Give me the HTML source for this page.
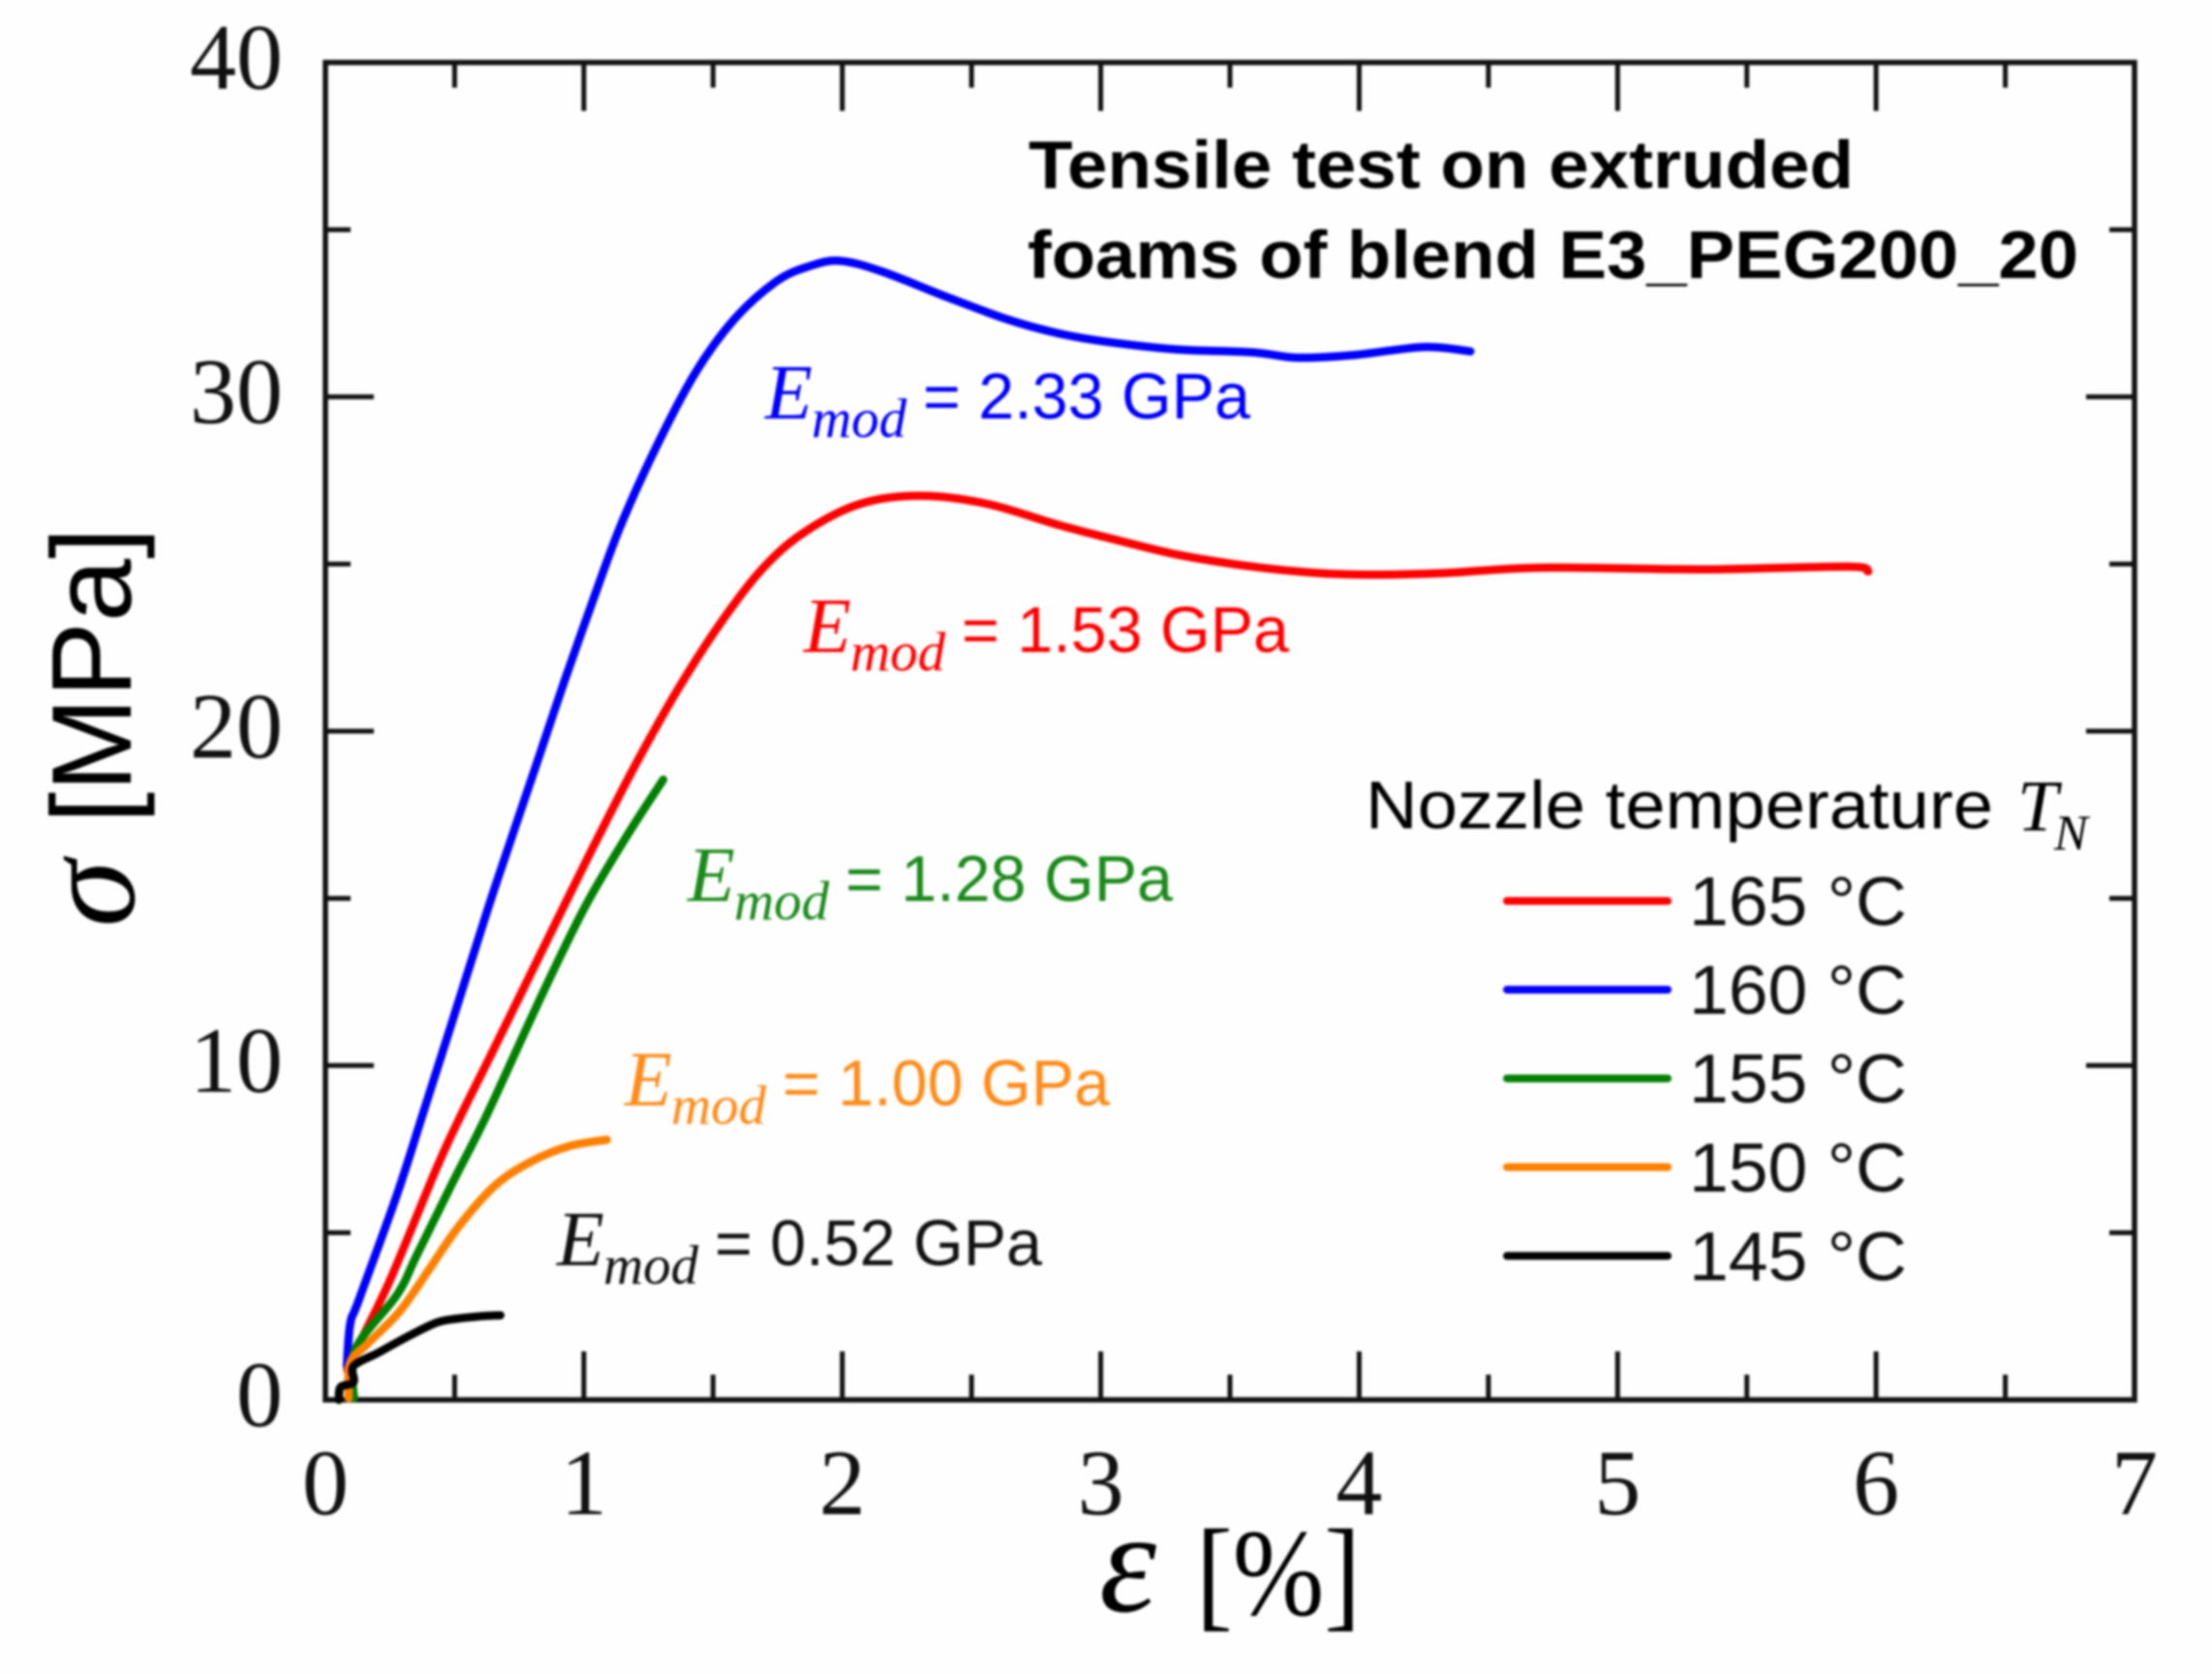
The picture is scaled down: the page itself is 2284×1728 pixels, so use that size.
<!DOCTYPE html>
<html lang="en">
<head>
<meta charset="utf-8">
<title>Tensile test on extruded foams</title>
<style>
html,body{margin:0;padding:0;background:#fefefe;}
svg{display:block;filter:blur(1.4px);}
.serif{font-family:"Liberation Serif",serif;}
.sans{font-family:"Liberation Sans",sans-serif;}
.ital{font-family:"Liberation Serif",serif;font-style:italic;}
</style>
</head>
<body>
<svg id="chart" xmlns="http://www.w3.org/2000/svg" width="2284" height="1728" viewBox="0 0 2284 1728">
  <rect x="0" y="0" width="2284" height="1728" fill="#fefefe"/>
  <g id="axes"></g>
  <g id="series"></g>

  <text class="ital" font-size="140" fill="#000" transform="translate(138,957) rotate(-90)">σ</text>
  <text class="sans" font-size="117" fill="#000" transform="translate(135,850) rotate(-90)">[MPa]</text>
  <text class="ital" font-size="150" fill="#000" x="1135" y="1663">ε</text>
  <text class="serif" font-size="128" fill="#000" x="1235" y="1667" textLength="170" lengthAdjust="spacingAndGlyphs">[%]</text>

  <text class="sans" font-weight="700" font-size="70" fill="#000" x="1062" y="194" textLength="852" lengthAdjust="spacingAndGlyphs">Tensile test on extruded</text>
  <text class="sans" font-weight="700" font-size="70" fill="#000" x="1061" y="287" textLength="1085" lengthAdjust="spacingAndGlyphs">foams of blend E3_PEG200_20</text>

  <g fill="#0000ff">
    <text class="ital" font-size="80" x="790" y="432">E</text>
    <text class="ital" font-size="57" x="838" y="451">mod</text>
    <text class="sans" font-size="67" x="953" y="432" textLength="338" lengthAdjust="spacingAndGlyphs">= 2.33 GPa</text>
  </g>
  <g fill="#ff0000">
    <text class="ital" font-size="80" x="830" y="673">E</text>
    <text class="ital" font-size="57" x="878" y="692">mod</text>
    <text class="sans" font-size="67" x="993" y="673" textLength="338" lengthAdjust="spacingAndGlyphs">= 1.53 GPa</text>
  </g>
  <g fill="#1a8a1a">
    <text class="ital" font-size="80" x="710" y="930">E</text>
    <text class="ital" font-size="57" x="758" y="949">mod</text>
    <text class="sans" font-size="67" x="873" y="930" textLength="338" lengthAdjust="spacingAndGlyphs">= 1.28 GPa</text>
  </g>
  <g fill="#ff8c1a">
    <text class="ital" font-size="80" x="645" y="1141">E</text>
    <text class="ital" font-size="57" x="693" y="1160">mod</text>
    <text class="sans" font-size="67" x="808" y="1141" textLength="338" lengthAdjust="spacingAndGlyphs">= 1.00 GPa</text>
  </g>
  <g fill="#111">
    <text class="ital" font-size="80" x="575" y="1306">E</text>
    <text class="ital" font-size="57" x="623" y="1325">mod</text>
    <text class="sans" font-size="67" x="738" y="1306" textLength="338" lengthAdjust="spacingAndGlyphs">= 0.52 GPa</text>
  </g>

  <g>
    <text class="sans" font-size="70" fill="#000" x="1410" y="855" textLength="648" lengthAdjust="spacingAndGlyphs">Nozzle temperature</text>
    <text class="ital" font-size="75" fill="#000" x="2083" y="857">T</text>
    <text class="ital" font-size="52" fill="#000" x="2121" y="877">N</text>
    <g id="legend-entries"></g>
  </g>
</svg>
<script>
// Axis definitions
const xTickLabels = ["0", "1", "2", "3", "4", "5", "6", "7"];
const yTickLabels = ["0", "10", "20", "30", "40"];
const xMinorValues = [0.5, 1.5, 2.5, 3.5, 4.5, 5.5, 6.5];
const yMinorValues = [5, 15, 25, 35];

// Series data: strain [%] and stress [MPa]
const strain165 = [0.085, 0.12, 0.251, 0.434, 0.527, 0.652, 0.925, 1.06, 1.2, 1.36, 1.526, 1.69, 1.853, 2.07, 2.3, 2.56, 2.836, 3.02, 3.29, 3.57, 3.84, 4.06, 4.33, 4.71, 5.34, 5.89, 5.97];
const stress165 = [0.88, 1.5, 3.6, 7.0, 8.55, 10.5, 14.8, 16.9, 19.0, 21.2, 23.2, 24.85, 25.95, 26.8, 27.04, 26.8, 26.17, 25.8, 25.29, 24.94, 24.73, 24.68, 24.73, 24.89, 24.84, 24.92, 24.78];
const strain160 = [0.083, 0.096, 0.13, 0.277, 0.377, 0.49, 0.625, 0.72, 0.816, 0.925, 1.03, 1.14, 1.28, 1.43, 1.58, 1.744, 1.87, 1.99, 2.153, 2.4, 2.645, 2.836, 3.02, 3.29, 3.59, 3.76, 3.98, 4.25, 4.43];
const stress160 = [1.01, 2.27, 3.0, 6.14, 8.55, 11.3, 14.6, 16.8, 19.0, 21.5, 23.8, 26.1, 28.5, 30.7, 32.3, 33.45, 33.9, 34.07, 33.75, 33.0, 32.3, 31.9, 31.65, 31.42, 31.33, 31.17, 31.25, 31.49, 31.36];
const strain155 = [0.11, 0.115, 0.277, 0.352, 0.489, 0.626, 0.843, 1.007, 1.165, 1.307];
const stress155 = [0.05, 1.5, 3.14, 4.3, 6.45, 8.55, 12.2, 14.78, 16.85, 18.55];
const strain150 = [0.09, 0.096, 0.165, 0.289, 0.402, 0.514, 0.652, 0.789, 0.939, 1.089];
const stress150 = [0.05, 1.11, 1.69, 2.66, 3.91, 5.17, 6.38, 7.1, 7.58, 7.78];
const strain145 = [0.052, 0.059, 0.109, 0.109, 0.202, 0.315, 0.427, 0.5, 0.6, 0.677];
const stress145 = [0, 0.38, 0.53, 1.01, 1.4, 1.88, 2.3, 2.42, 2.5, 2.53];

const legendLabels = ["165 °C", "160 °C", "155 °C", "150 °C", "145 °C"];
const legendColors = ["#ff0000", "#0000ff", "#008000", "#ff8000", "#000000"];

const plotLeft = 336, plotRight = 2204, plotTop = 64.5, plotBottom = 1445;
const xMax = 7, yMax = 40;
const xScale = v => plotLeft + (v / xMax) * (plotRight - plotLeft);
const yScale = v => plotBottom - (v / yMax) * (plotBottom - plotTop);

const NS = "http://www.w3.org/2000/svg";
const axes = document.getElementById("axes");
const seriesGroup = document.getElementById("series");
const legendGroup = document.getElementById("legend-entries");
const axisColor = "#111";

function tickLine(x1, y1, x2, y2, width) {
  const l = document.createElementNS(NS, "line");
  l.setAttribute("x1", x1);
  l.setAttribute("y1", y1);
  l.setAttribute("x2", x2);
  l.setAttribute("y2", y2);
  l.setAttribute("stroke", axisColor);
  l.setAttribute("stroke-width", width);
  axes.appendChild(l);
  return l;
}

const frame = document.createElementNS(NS, "rect");
frame.setAttribute("x", plotLeft);
frame.setAttribute("y", plotTop);
frame.setAttribute("width", plotRight - plotLeft);
frame.setAttribute("height", plotBottom - plotTop);
frame.setAttribute("fill", "none");
frame.setAttribute("stroke", axisColor);
frame.setAttribute("stroke-width", "5.5");


axes.appendChild(frame);

const majorLen = 50, minorLen = 26, tickW = 5;

xTickLabels.forEach(label => {
  const px = xScale(Number(label));
  if (Number(label) > 0 && Number(label) < xMax) {
    const b = tickLine(px, plotBottom, px, plotBottom - majorLen, tickW);
    
    
    const t = tickLine(px, plotTop, px, plotTop + majorLen, tickW);
    
    
  }
  const txt = document.createElementNS(NS, "text");
  txt.setAttribute("x", px);
  txt.setAttribute("y", 1563);
  txt.setAttribute("text-anchor", "middle");
  txt.setAttribute("class", "serif");
  txt.setAttribute("font-size", "96");
  txt.setAttribute("fill", "#111");
  txt.textContent = label;
  
  
  axes.appendChild(txt);
});

xMinorValues.forEach(v => {
  const px = xScale(v);
  const b = tickLine(px, plotBottom, px, plotBottom - minorLen, tickW);
  
  
  const t = tickLine(px, plotTop, px, plotTop + minorLen, tickW);
  
  
});

yTickLabels.forEach(label => {
  const v = Number(label);
  const py = yScale(v);
  if (v > 0 && v < yMax) {
    const l = tickLine(plotLeft, py, plotLeft + majorLen, py, tickW);
    
    
    const r = tickLine(plotRight, py, plotRight - majorLen, py, tickW);
    
    
  }
  const txt = document.createElementNS(NS, "text");
  txt.setAttribute("x", 292);
  txt.setAttribute("y", py + 27);
  txt.setAttribute("text-anchor", "end");
  txt.setAttribute("class", "serif");
  txt.setAttribute("font-size", "96");
  txt.setAttribute("fill", "#111");
  txt.textContent = label;
  
  
  axes.appendChild(txt);
});

yMinorValues.forEach(v => {
  const py = yScale(v);
  const l = tickLine(plotLeft, py, plotLeft + minorLen, py, tickW);
  
  
  const r = tickLine(plotRight, py, plotRight - minorLen, py, tickW);
  
  
});

// Smooth path through points (Catmull-Rom to Bezier)
function smoothPath(xs, ys) {
  const p = xs.map((x, i) => [xScale(x), yScale(ys[i])]);
  let d = "M" + p[0][0].toFixed(1) + " " + p[0][1].toFixed(1);
  for (let i = 0; i < p.length - 1; i++) {
    const p0 = p[Math.max(i - 1, 0)];
    const p1 = p[i];
    const p2 = p[i + 1];
    const p3 = p[Math.min(i + 2, p.length - 1)];
    const c1x = p1[0] + (p2[0] - p0[0]) / 6;
    const c1y = p1[1] + (p2[1] - p0[1]) / 6;
    const c2x = p2[0] - (p3[0] - p1[0]) / 6;
    const c2y = p2[1] - (p3[1] - p1[1]) / 6;
    d += "C" + c1x.toFixed(1) + " " + c1y.toFixed(1) + " " + c2x.toFixed(1) + " " + c2y.toFixed(1) + " " + p2[0].toFixed(1) + " " + p2[1].toFixed(1);
  }
  return d;
}

function drawSeries(xs, ys, color) {
  const path = document.createElementNS(NS, "path");
  path.setAttribute("d", smoothPath(xs, ys));
  path.setAttribute("fill", "none");
  path.setAttribute("stroke", color);
  path.setAttribute("stroke-width", "8.5");
  path.setAttribute("stroke-linecap", "round");
  path.setAttribute("stroke-linejoin", "round");
  seriesGroup.appendChild(path);
  return path;
}

const line160 = drawSeries(strain160, stress160, legendColors[1]);


const line165 = drawSeries(strain165, stress165, legendColors[0]);


const line155 = drawSeries(strain155, stress155, legendColors[2]);


const line150 = drawSeries(strain150, stress150, legendColors[3]);


const line145 = drawSeries(strain145, stress145, legendColors[4]);



// Legend rows
legendLabels.forEach((label, i) => {
  const rowY = 930 + i * 91.6;
  const sw = document.createElementNS(NS, "line");
  sw.setAttribute("x1", 1556);
  sw.setAttribute("x2", 1722);
  sw.setAttribute("y1", rowY);
  sw.setAttribute("y2", rowY);
  sw.setAttribute("stroke", legendColors[i]);
  sw.setAttribute("stroke-width", "8");
  sw.setAttribute("stroke-linecap", "round");
  
  
  legendGroup.appendChild(sw);
  const t = document.createElementNS(NS, "text");
  t.setAttribute("x", 1744);
  t.setAttribute("y", rowY + 25);
  t.setAttribute("class", "sans");
  t.setAttribute("font-size", "71");
  t.setAttribute("textLength", "225");
  t.setAttribute("lengthAdjust", "spacingAndGlyphs");
  t.setAttribute("fill", "#111");
  t.textContent = label;
  
  
  legendGroup.appendChild(t);
});
</script>
</body>
</html>
